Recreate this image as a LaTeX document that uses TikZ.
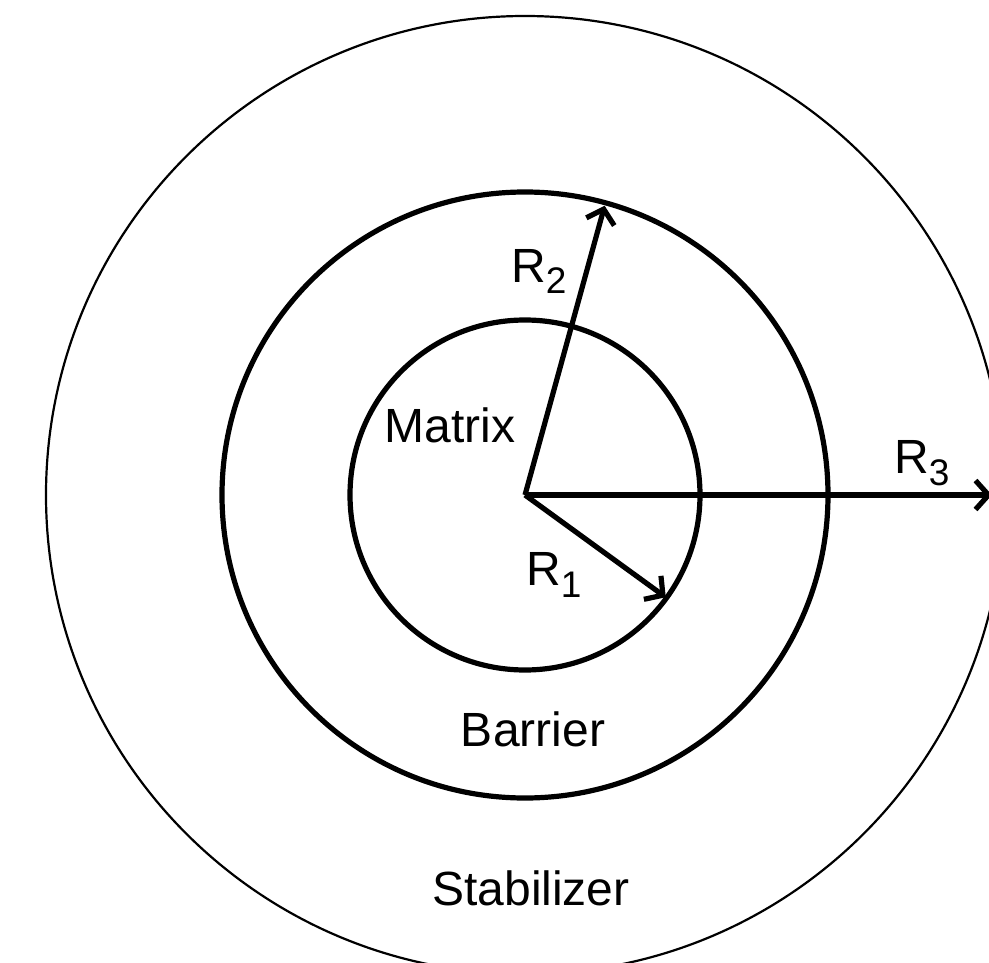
\documentclass[tikz,border=0pt]{standalone}
\usepackage{fontspec}
\setmainfont{Liberation Sans}
\usetikzlibrary{arrows.meta,calc}
\newcommand{\bigtxt}{\fontsize{48}{56}\selectfont}
\newcommand{\rlab}[1]{{\bigtxt R\raisebox{-12pt}{\fontsize{37}{42}\selectfont #1}}}
\begin{document}
\begin{tikzpicture}[x=1pt,y=-1pt,
  thinring/.style={draw=black,line width=2.2pt},
  thickring/.style={draw=black,line width=5.2pt},
  radius arrow/.style={draw=black,line width=5.2pt,-{Straight Barb[length=13pt,width=29pt]}},
  lab/.style={inner sep=0pt,anchor=base,font=\bigtxt},
  rlabel/.style={inner sep=0pt,anchor=base west}]
\useasboundingbox (0,0) rectangle (989,963);
\clip (0,0) rectangle (989,963);
\coordinate (c) at (525,495);
\draw[thinring] (c) circle[radius=479];
\draw[thickring] (c) circle[radius=303];
\draw[thickring] (c) circle[radius=175];
\coordinate (t1) at ($(c)+(36:174)$);
\coordinate (t2) at ($(c)+(-74.6:300)$);
\coordinate (t3) at (992,495);
\draw[radius arrow] (c) -- (t1);
\draw[radius arrow] (c) -- (t2);
\draw[radius arrow] (c) -- (t3);
\node[lab] (matrix) at (450,442) {Matrix};
\node[lab] (barrier) at (533,746) {Barrier};
\node[lab] (stab) at (531,905) {Stabilizer};
\node[rlabel] (r1) at (526,585) {\rlab{1}};
\node[rlabel] (r2) at (511,282) {\rlab{2}};
\node[rlabel] (r3) at (894,473) {\rlab{3}};
\end{tikzpicture}
\end{document}
